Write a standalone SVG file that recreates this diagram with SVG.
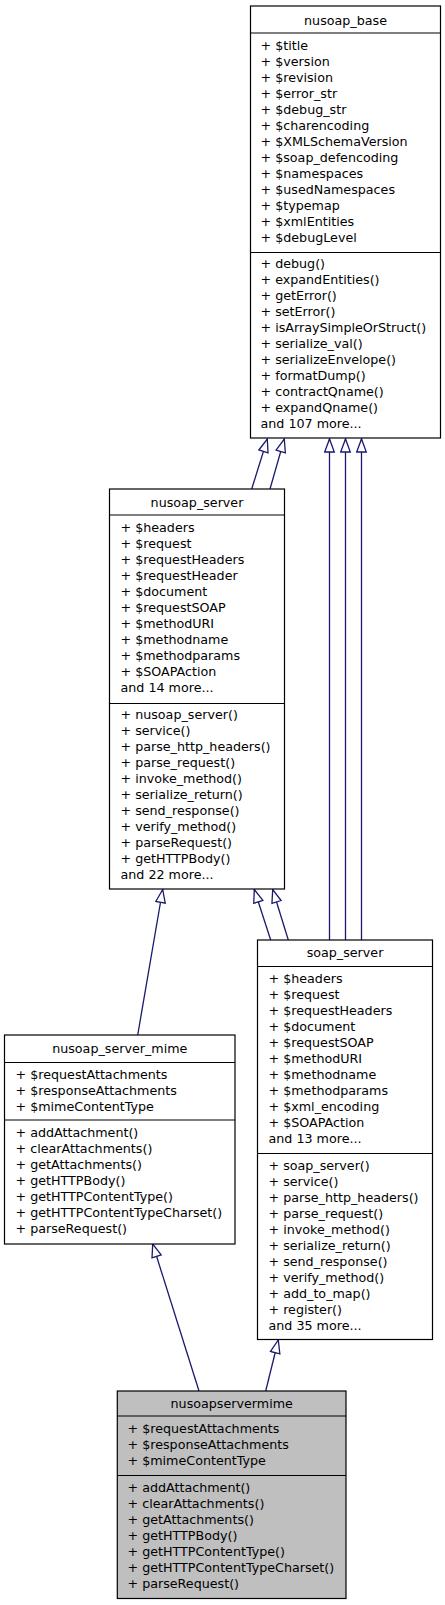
<svg xmlns="http://www.w3.org/2000/svg" width="445" height="1605" viewBox="0 0 445 1605">
<style>
text{font-family:"DejaVu Sans",Verdana,sans-serif;font-size:12.7px;fill:#000}
.t{text-anchor:middle}
.box{fill:#fff;stroke:#000;stroke-width:1.2}
.cur{fill:#bfbfbf}
.sep{stroke:#000;stroke-width:1.2}
.edge{fill:none;stroke:#191970;stroke-width:1.3}
</style>
<defs>
<marker id="inh" markerUnits="userSpaceOnUse" markerWidth="16" markerHeight="14" refX="14" refY="6" orient="auto">
<path d="M1,1.2 L14,6 L1,10.8 Z" fill="#fff" stroke="#191970" stroke-width="1.3"/>
</marker>
</defs>
<rect width="445" height="1605" fill="#fff"/>
<g id="connectors">
<path class="edge" d="M251.7,489 L267.3,439" marker-end="url(#inh)"/>
<path class="edge" d="M270,489 L284.3,439" marker-end="url(#inh)"/>
<path class="edge" d="M329.5,940 L329.5,439" marker-end="url(#inh)"/>
<path class="edge" d="M345.5,940 L345.5,439" marker-end="url(#inh)"/>
<path class="edge" d="M361.5,940 L361.5,439" marker-end="url(#inh)"/>
<path class="edge" d="M137.7,1035 L162.7,889.5" marker-end="url(#inh)"/>
<path class="edge" d="M270.7,940 L254.3,889.5" marker-end="url(#inh)"/>
<path class="edge" d="M288.3,940 L272.7,889.5" marker-end="url(#inh)"/>
<path class="edge" d="M199,1391 L152.7,1244" marker-end="url(#inh)"/>
<path class="edge" d="M265.7,1391 L278.3,1340" marker-end="url(#inh)"/>
</g>
<g id="nusoap_base">
<rect class="box" x="250.5" y="6" width="190" height="432"/>
<line class="sep" x1="250.5" y1="33" x2="440.5" y2="33"/>
<line class="sep" x1="250.5" y1="252.5" x2="440.5" y2="252.5"/>
<text class="t" x="345.5" y="24.5">nusoap_base</text>
<text x="260.5" y="50">+ $title</text>
<text x="260.5" y="66">+ $version</text>
<text x="260.5" y="82">+ $revision</text>
<text x="260.5" y="98">+ $error_str</text>
<text x="260.5" y="114">+ $debug_str</text>
<text x="260.5" y="130">+ $charencoding</text>
<text x="260.5" y="146">+ $XMLSchemaVersion</text>
<text x="260.5" y="162">+ $soap_defencoding</text>
<text x="260.5" y="178">+ $namespaces</text>
<text x="260.5" y="194">+ $usedNamespaces</text>
<text x="260.5" y="210">+ $typemap</text>
<text x="260.5" y="226">+ $xmlEntities</text>
<text x="260.5" y="242">+ $debugLevel</text>
<text x="260.5" y="268">+ debug()</text>
<text x="260.5" y="284">+ expandEntities()</text>
<text x="260.5" y="300">+ getError()</text>
<text x="260.5" y="316">+ setError()</text>
<text x="260.5" y="332">+ isArraySimpleOrStruct()</text>
<text x="260.5" y="348">+ serialize_val()</text>
<text x="260.5" y="364">+ serializeEnvelope()</text>
<text x="260.5" y="380">+ formatDump()</text>
<text x="260.5" y="396">+ contractQname()</text>
<text x="260.5" y="412">+ expandQname()</text>
<text x="260.5" y="428">and 107 more...</text>
</g>
<g id="nusoap_server">
<rect class="box" x="109.5" y="489" width="175" height="400"/>
<line class="sep" x1="109.5" y1="515" x2="284.5" y2="515"/>
<line class="sep" x1="109.5" y1="703.5" x2="284.5" y2="703.5"/>
<text class="t" x="197" y="507">nusoap_server</text>
<text x="120.5" y="532">+ $headers</text>
<text x="120.5" y="548">+ $request</text>
<text x="120.5" y="564">+ $requestHeaders</text>
<text x="120.5" y="580">+ $requestHeader</text>
<text x="120.5" y="596">+ $document</text>
<text x="120.5" y="612">+ $requestSOAP</text>
<text x="120.5" y="628">+ $methodURI</text>
<text x="120.5" y="644">+ $methodname</text>
<text x="120.5" y="660">+ $methodparams</text>
<text x="120.5" y="676">+ $SOAPAction</text>
<text x="120.5" y="692">and 14 more...</text>
<text x="120.5" y="719">+ nusoap_server()</text>
<text x="120.5" y="735">+ service()</text>
<text x="120.5" y="751">+ parse_http_headers()</text>
<text x="120.5" y="767">+ parse_request()</text>
<text x="120.5" y="783">+ invoke_method()</text>
<text x="120.5" y="799">+ serialize_return()</text>
<text x="120.5" y="815">+ send_response()</text>
<text x="120.5" y="831">+ verify_method()</text>
<text x="120.5" y="847">+ parseRequest()</text>
<text x="120.5" y="863">+ getHTTPBody()</text>
<text x="120.5" y="879">and 22 more...</text>
</g>
<g id="soap_server">
<rect class="box" x="257.5" y="940" width="175" height="399.5"/>
<line class="sep" x1="257.5" y1="966.5" x2="432.5" y2="966.5"/>
<line class="sep" x1="257.5" y1="1153.5" x2="432.5" y2="1153.5"/>
<text class="t" x="345" y="957">soap_server</text>
<text x="268.5" y="983">+ $headers</text>
<text x="268.5" y="999">+ $request</text>
<text x="268.5" y="1015">+ $requestHeaders</text>
<text x="268.5" y="1031">+ $document</text>
<text x="268.5" y="1047">+ $requestSOAP</text>
<text x="268.5" y="1063">+ $methodURI</text>
<text x="268.5" y="1079">+ $methodname</text>
<text x="268.5" y="1095">+ $methodparams</text>
<text x="268.5" y="1111">+ $xml_encoding</text>
<text x="268.5" y="1127">+ $SOAPAction</text>
<text x="268.5" y="1143">and 13 more...</text>
<text x="268.5" y="1170">+ soap_server()</text>
<text x="268.5" y="1186">+ service()</text>
<text x="268.5" y="1202">+ parse_http_headers()</text>
<text x="268.5" y="1218">+ parse_request()</text>
<text x="268.5" y="1234">+ invoke_method()</text>
<text x="268.5" y="1250">+ serialize_return()</text>
<text x="268.5" y="1266">+ send_response()</text>
<text x="268.5" y="1282">+ verify_method()</text>
<text x="268.5" y="1298">+ add_to_map()</text>
<text x="268.5" y="1314">+ register()</text>
<text x="268.5" y="1330">and 35 more...</text>
</g>
<g id="nusoap_server_mime">
<rect class="box" x="4.5" y="1035" width="230.5" height="209"/>
<line class="sep" x1="4.5" y1="1062.5" x2="235" y2="1062.5"/>
<line class="sep" x1="4.5" y1="1120" x2="235" y2="1120"/>
<text class="t" x="119.75" y="1052.5">nusoap_server_mime</text>
<text x="15.5" y="1078.5">+ $requestAttachments</text>
<text x="15.5" y="1094.5">+ $responseAttachments</text>
<text x="15.5" y="1110.5">+ $mimeContentType</text>
<text x="15.5" y="1137">+ addAttachment()</text>
<text x="15.5" y="1153">+ clearAttachments()</text>
<text x="15.5" y="1169">+ getAttachments()</text>
<text x="15.5" y="1185">+ getHTTPBody()</text>
<text x="15.5" y="1201">+ getHTTPContentType()</text>
<text x="15.5" y="1217">+ getHTTPContentTypeCharset()</text>
<text x="15.5" y="1233">+ parseRequest()</text>
</g>
<g id="nusoapservermime">
<rect class="box cur" x="117.3" y="1391" width="228.7" height="207.5"/>
<line class="sep" x1="117.3" y1="1416" x2="346" y2="1416"/>
<line class="sep" x1="117.3" y1="1475.5" x2="346" y2="1475.5"/>
<text class="t" x="231.7" y="1408">nusoapservermime</text>
<text x="127.5" y="1433">+ $requestAttachments</text>
<text x="127.5" y="1449">+ $responseAttachments</text>
<text x="127.5" y="1465">+ $mimeContentType</text>
<text x="127.5" y="1492">+ addAttachment()</text>
<text x="127.5" y="1508">+ clearAttachments()</text>
<text x="127.5" y="1524">+ getAttachments()</text>
<text x="127.5" y="1540">+ getHTTPBody()</text>
<text x="127.5" y="1556">+ getHTTPContentType()</text>
<text x="127.5" y="1572">+ getHTTPContentTypeCharset()</text>
<text x="127.5" y="1588">+ parseRequest()</text>
</g>
</svg>
